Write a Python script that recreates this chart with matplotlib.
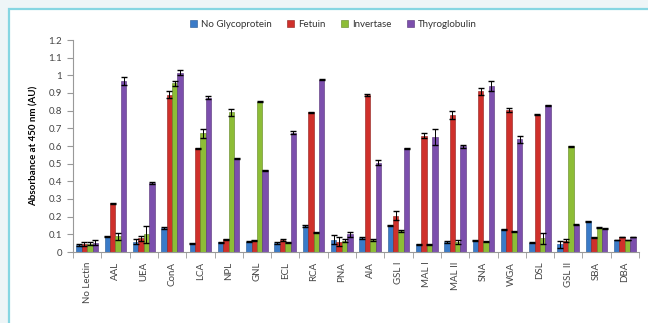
import numpy as np
import matplotlib
matplotlib.use('Agg')
import matplotlib.pyplot as plt
from matplotlib.patches import Rectangle

# ============================================================
# DATA
# ============================================================
lektin = ["No Lectin", "AAL", "UEA", "ConA", "LCA", "NPL", "GNL", "ECL", "RCA", "PNA",
          "AIA", "GSL I", "MAL I", "MAL II", "SNA", "WGA", "DSL", "GSL II", "SBA", "DBA"]

no_glyco = [0.040, 0.088, 0.058, 0.137, 0.050, 0.054, 0.058, 0.052, 0.147, 0.070,
            0.080, 0.150, 0.045, 0.056, 0.064, 0.128, 0.052, 0.045, 0.175, 0.068]
fetuin = [0.045, 0.275, 0.078, 0.890, 0.588, 0.072, 0.066, 0.068, 0.790, 0.058,
          0.890, 0.205, 0.658, 0.776, 0.910, 0.804, 0.778, 0.064, 0.083, 0.084]
invertase = [0.048, 0.090, 0.100, 0.955, 0.673, 0.790, 0.851, 0.054, 0.112, 0.064,
             0.068, 0.118, 0.045, 0.058, 0.058, 0.116, 0.078, 0.598, 0.138, 0.068]
thyro = [0.052, 0.968, 0.390, 1.015, 0.874, 0.530, 0.462, 0.676, 0.975, 0.100,
         0.506, 0.588, 0.650, 0.598, 0.940, 0.638, 0.830, 0.155, 0.133, 0.086]

err_no_glyco = [0.005, 0.004, 0.015, 0.004, 0.003, 0.004, 0.004, 0.004, 0.008, 0.025,
                0.005, 0.003, 0.003, 0.004, 0.003, 0.003, 0.003, 0.020, 0.003, 0.0]
err_fetuin = [0.010, 0.003, 0.015, 0.020, 0.003, 0.004, 0.004, 0.008, 0.003, 0.025,
              0.005, 0.025, 0.015, 0.022, 0.020, 0.010, 0.003, 0.008, 0.003, 0.0]
err_invertase = [0.010, 0.020, 0.050, 0.015, 0.025, 0.020, 0.003, 0.005, 0.004, 0.010,
                 0.004, 0.005, 0.003, 0.010, 0.003, 0.003, 0.030, 0.003, 0.003, 0.0]
err_thyro = [0.015, 0.020, 0.005, 0.015, 0.010, 0.003, 0.003, 0.010, 0.003, 0.015,
             0.015, 0.003, 0.045, 0.010, 0.028, 0.020, 0.003, 0.003, 0.003, 0.0]

seri = ["No Glycoprotein", "Fetuin", "Invertase", "Thyroglobulin"]
warna = ["#3a7bc8", "#cf302b", "#8dbd36", "#7c4fad"]
tepi = ["#23558f", "#8e1d1a", "#5f8420", "#533177"]

plt.rcParams['font.family'] = ['Lato', 'DejaVu Sans']

# ============================================================
# PLOT
# ============================================================
fig = plt.figure(figsize=(6.48, 3.23), dpi=100, facecolor="#eef5f7")

# panel putih dengan garis tepi cyan (kiri & atas saja)
panel = Rectangle((9 / 648, -0.5), 1.5, 1.5 - 9 / 323,
                  transform=fig.transFigure, facecolor="white",
                  edgecolor="#86d6e2", linewidth=1.6, zorder=-10)
fig.patches.append(panel)

ax = fig.add_axes([73 / 648, 1 - 252 / 323, (639 - 73) / 648, (252 - 40) / 323])
ax.set_facecolor("none")

x = np.arange(len(lektin))
lebar = 0.19
nilai = [no_glyco, fetuin, invertase, thyro]
galat = [err_no_glyco, err_fetuin, err_invertase, err_thyro]

for i in range(4):
    pos = x + (i - 1.5) * lebar
    ax.bar(pos, nilai[i], width=lebar, color=warna[i], edgecolor=tepi[i],
           linewidth=0.4, label=seri[i], zorder=2)
    ax.errorbar(pos, nilai[i], yerr=galat[i], fmt="none", ecolor="black",
                elinewidth=0.7, capsize=2, capthick=1.0, zorder=3)

ax.set_xlim(-0.5, len(lektin) - 0.5)
ax.set_ylim(0, 1.2)
ax.set_yticks(np.arange(0, 1.21, 0.1))
ax.set_yticklabels(["0", "0.1", "0.2", "0.3", "0.4", "0.5", "0.6", "0.7",
                    "0.8", "0.9", "1", "1.1", "1.2"])
ax.set_xticks(x)
ax.set_xticklabels(lektin, rotation=90)
ax.set_xticks(np.arange(-0.5, len(lektin), 1), minor=True)
ax.tick_params(axis="x", which="major", length=0, pad=7, labelsize=7, labelcolor="#444444")
ax.tick_params(axis="x", which="minor", length=4, color="#999999", direction="out")
ax.tick_params(axis="y", length=4, color="#999999", labelsize=7, labelcolor="#444444", pad=4)

for s in ["top", "right"]:
    ax.spines[s].set_visible(False)
for s in ["left", "bottom"]:
    ax.spines[s].set_color("#999999")
    ax.spines[s].set_linewidth(0.8)

ax.set_ylabel("Absorbance at 450 nm (AU)", fontsize=7, fontweight="bold", labelpad=7)

ax.legend(loc="upper center", bbox_to_anchor=(0.46, 1.135), ncol=4, frameon=False,
          fontsize=7, handlelength=0.7, handleheight=0.7, handletextpad=0.4,
          columnspacing=1.6, labelcolor="#333333")

fig.savefig("out.png", dpi=100, facecolor=fig.get_facecolor())
